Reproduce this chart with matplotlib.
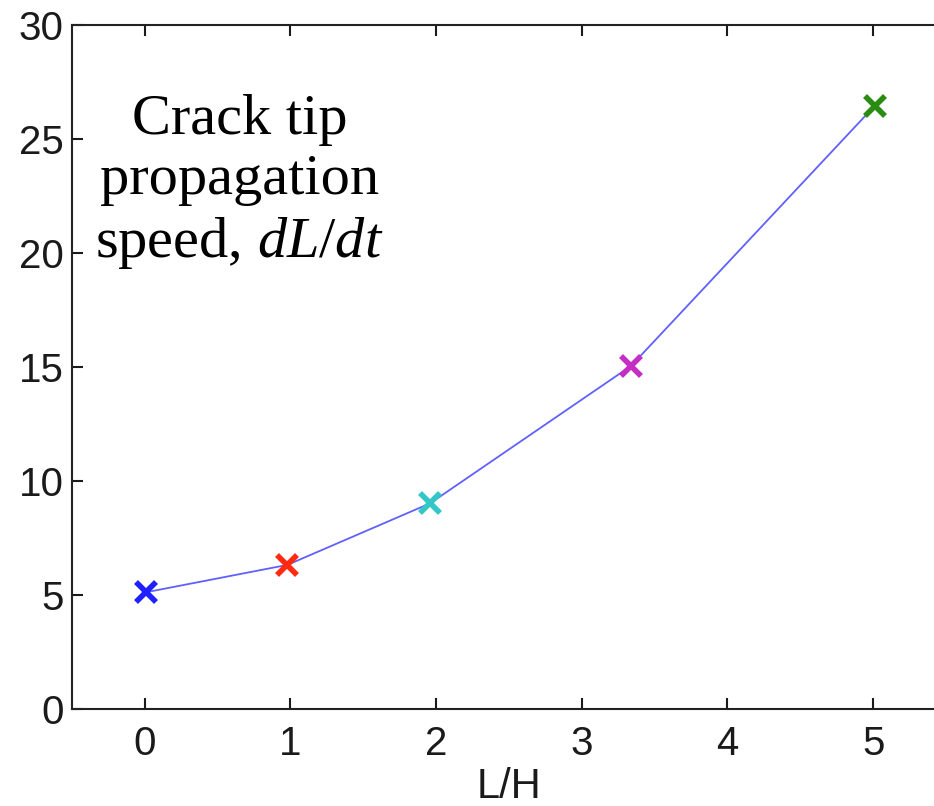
import matplotlib
matplotlib.use("Agg")
import matplotlib.pyplot as plt

# values
lh = [0.01, 0.98, 1.96, 3.34, 5.01]
speed = [5.13, 6.33, 9.03, 15.06, 26.45]
marker_colors = ['#2020ff', '#ff2a10', '#33c6c6', '#c42ec4', '#2a8c10']

xticks = [0, 1, 2, 3, 4, 5]
yticks = [0, 5, 10, 15, 20, 25, 30]

plt.rcParams['font.family'] = ['Liberation Sans', 'DejaVu Sans']
plt.rcParams['mathtext.fontset'] = 'custom'
plt.rcParams['mathtext.rm'] = 'Liberation Serif'
plt.rcParams['mathtext.it'] = 'Liberation Serif:italic'

fig = plt.figure(figsize=(9.34, 8.06), dpi=100)
ax = fig.add_axes([0.0768, 0.12, 0.936, 0.849])

ax.plot(lh, speed, color='#6060ff', lw=1.3, zorder=2)
for x, y, c in zip(lh, speed, marker_colors):
    ax.plot(x, y, marker='x', color=c, markersize=14, mew=4, zorder=3)

ax.set_xlim(-0.5, 5.5)
ax.set_ylim(0, 30)
ax.set_xticks(xticks)
ax.set_yticks(yticks)
ax.tick_params(direction='in', length=8, width=1.5, labelsize=29,
               top=True, right=True, colors='#1a1a1a')
ax.tick_params(axis='x', pad=11)
ax.tick_params(axis='y', pad=6)
for s in ax.spines.values():
    s.set_linewidth(1.5)
    s.set_color('#222222')

ax.set_xlabel('L/H', fontsize=30, labelpad=3, color='#1a1a1a')

ax.text(0.65, 23.1, 'Crack tip\npropagation\nspeed, $\\mathit{dL/dt}$',
        ha='center', va='center', fontsize=42, family='Liberation Serif',
        linespacing=1.2)

fig.savefig('out.png', dpi=100)
